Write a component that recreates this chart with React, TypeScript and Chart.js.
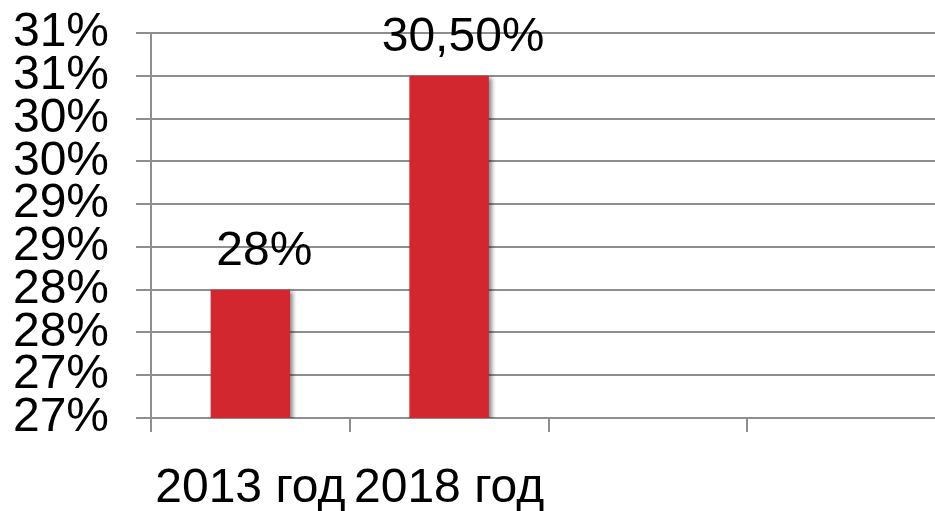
import React, { useEffect, useRef } from "react";
import { Chart, registerables } from "chart.js";

Chart.register(...registerables);

const categories = ["2013 год", "2018 год", "", ""];
const values = [28, 30.5, null, null];
const valueLabels = ["28%", "30,50%"];
const yTickLabels = ["27%", "27%", "28%", "28%", "29%", "29%", "30%", "30%", "31%", "31%"];
const yMin = 26.5;
const yMax = 31;
const yStep = 0.5;

const FONT = "'Liberation Sans', Arial, Helvetica, sans-serif";
const GRID = "#8e8e8e";
const FS = 48;

export default function App() {
  const ref = useRef<HTMLCanvasElement>(null);
  useEffect(() => {
    if (!ref.current) return;
    const shadowPlugin = {
      id: "barShadow",
      beforeDatasetsDraw(chart: any) {
        const ctx = chart.ctx;
        ctx.save();
        ctx.shadowColor = "rgba(0,0,0,0.45)";
        ctx.shadowOffsetX = 3;
        ctx.shadowOffsetY = 2;
        ctx.shadowBlur = 4;
      },
      afterDatasetsDraw(chart: any) {
        chart.ctx.restore();
      },
    };
    const labelPlugin = {
      id: "valueLabels",
      afterDraw(chart: any) {
        const ctx = chart.ctx;
        const meta = chart.getDatasetMeta(0);
        ctx.save();
        ctx.font = `${FS}px ${FONT}`;
        ctx.fillStyle = "#000";
        ctx.textAlign = "center";
        ctx.textBaseline = "alphabetic";
        meta.data.forEach((el: any, i: number) => {
          if (values[i] == null) return;
          ctx.fillText(valueLabels[i], el.x + 14, el.y - 25);
        });
        ctx.restore();
      },
    };
    const chart = new Chart(ref.current, {
      type: "bar",
      data: {
        labels: categories,
        datasets: [
          {
            data: values as any,
            backgroundColor: "#d2272e",
            borderWidth: 0,
            barPercentage: 0.4,
            categoryPercentage: 1,
          },
        ],
      },
      options: {
        animation: false,
        responsive: true,
        maintainAspectRatio: false,
        layout: { padding: { top: 33, left: 0, right: 0, bottom: 0 } },
        plugins: { legend: { display: false }, tooltip: { enabled: false } },
        scales: {
          x: {
            offset: true,
            afterFit(scale: any) {
              scale.height = 93;
              scale.paddingLeft = 0;
              scale.paddingRight = 0;
            },
            grid: {
              offset: true,
              drawOnChartArea: false,
              drawTicks: true,
              tickLength: 14,
              color: GRID,
              lineWidth: 2,
            },
            border: { color: GRID, width: 2 },
            ticks: {
              color: "#000",
              font: { family: FONT, size: FS },
              padding: 28,
              maxRotation: 0,
              autoSkip: false,
            },
          },
          y: {
            min: yMin,
            max: yMax,
            afterFit(scale: any) {
              scale.width = 151;
              scale.paddingTop = 0;
              scale.paddingBottom = 0;
            },
            grid: {
              color: GRID,
              lineWidth: 2,
              tickLength: 15,
            },
            border: { color: GRID, width: 2 },
            ticks: {
              stepSize: yStep,
              autoSkip: false,
              color: "#000",
              font: { family: FONT, size: FS },
              padding: 27,
              callback: (_v: any, i: number) => yTickLabels[i] ?? "",
            },
          },
        },
      },
      plugins: [shadowPlugin, labelPlugin],
    });
    return () => chart.destroy();
  }, []);
  return (
    <div
      style={{
        position: "absolute",
        left: 0,
        top: 0,
        width: 935,
        height: 511,
        overflow: "hidden",
        background: "#fff",
      }}
    >
      <div style={{ position: "relative", width: 946, height: 511 }}>
        <canvas ref={ref} />
      </div>
    </div>
  );
}
